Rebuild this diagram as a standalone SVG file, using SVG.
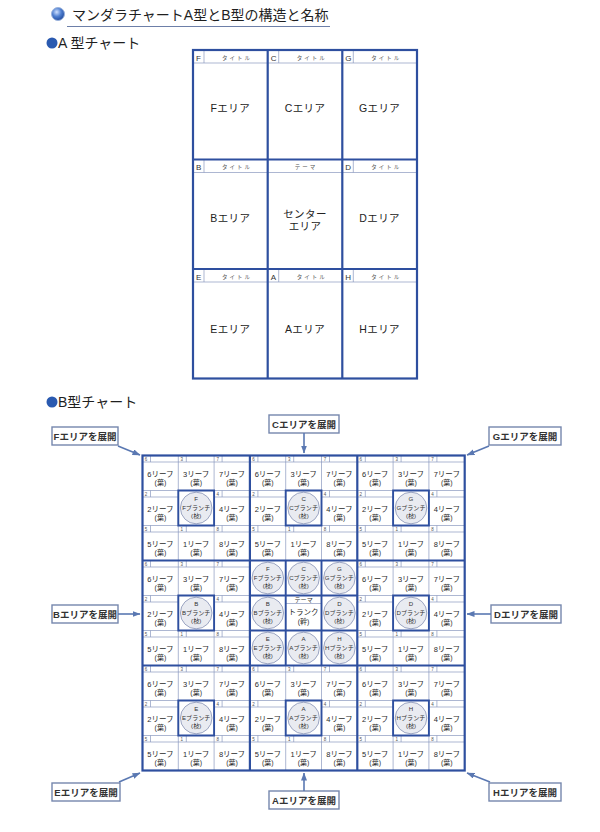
<svg xmlns="http://www.w3.org/2000/svg" xmlns:xlink="http://www.w3.org/1999/xlink" width="600" height="832" viewBox="0 0 600 832">
<style>
text{font-family:"Liberation Sans","Noto Sans CJK JP",sans-serif;}
.tk{fill:none;stroke:#2e4f9f;stroke-width:2.2}
.tk2{fill:none;stroke:#2e4f9f;stroke-width:1.9}
.tn{fill:none;stroke:#8a98bf;stroke-width:0.7}
.n{font-size:4.5px;fill:#555}
.lf{font-size:7.5px;fill:#2b2b2b;text-anchor:middle}
.ha{font-size:7px}
.b{font-size:6.1px;fill:#333;text-anchor:middle}
.ci{fill:#e9ebf1;stroke:#8792b5;stroke-width:0.8}
.lb{fill:#fff;stroke:#7587ad;stroke-width:1.4}
.lt{font-size:9.5px;font-weight:bold;fill:#333;text-anchor:middle}
.ar{stroke:#5a78b2;stroke-width:1.6;fill:none;marker-end:url(#ah)}
.at{font-size:10.5px;fill:#222;text-anchor:middle;letter-spacing:0.4px}
.tt{font-size:5.5px;fill:#555;text-anchor:middle;letter-spacing:2px}
.al{font-size:8px;fill:#333}
.h1{font-size:14px;fill:#1f1f1f}
.h2{font-size:14px;fill:#1f1f1f}
</style>
<defs>
<marker id="ah" viewBox="0 0 8 6" refX="7.5" refY="3" markerWidth="8" markerHeight="6" markerUnits="userSpaceOnUse" orient="auto"><path d="M0,0L8,3L0,6z" fill="#5a78b2"/></marker>
<radialGradient id="sph" cx="0.4" cy="0.35" r="0.7"><stop offset="0" stop-color="#cfe0ff"/><stop offset="0.5" stop-color="#4f7fd0"/><stop offset="1" stop-color="#1d4597"/></radialGradient>
<path id="fr" class="tn" d="M0,6.5H35.8M8,0V6.5"/>
</defs>
<rect width="600" height="832" fill="#fff"/>

<g id="title">
<circle cx="58" cy="14" r="6.5" fill="url(#sph)" stroke="#9bb3dd" stroke-width="1"/>
<text class="h1" x="72" y="20">マンダラチャートA型とB型の構造と名称</text>
<path d="M67,26.5H330" stroke="#6d7fa8" stroke-width="1.2"/>
</g>
<g id="titleA">
<circle cx="52" cy="43" r="5.5" fill="#2a5ab0"/>
<text class="h2" x="58" y="48">A 型チャート</text>
</g>
<g id="titleB">
<circle cx="52" cy="402" r="5.5" fill="#2a5ab0"/>
<text class="h2" x="58" y="407">B型チャート</text>
</g>

<g id="chartA">
<g id="a-F"><path class="tn" d="M193,63H267.7M204,50V63"/><text class="al" x="196" y="60.5">F</text><text class="tt" x="237" y="59.5">タイトル</text><text class="at" x="230.3" y="112">Fエリア</text></g>
<g id="a-C"><path class="tn" d="M267.7,63H342.3M278.7,50V63"/><text class="al" x="270.7" y="60.5">C</text><text class="tt" x="311.7" y="59.5">タイトル</text><text class="at" x="305" y="112">Cエリア</text></g>
<g id="a-G"><path class="tn" d="M342.3,63H417M353.3,50V63"/><text class="al" x="345.3" y="60.5">G</text><text class="tt" x="386.3" y="59.5">タイトル</text><text class="at" x="379.6" y="112">Gエリア</text></g>
<g id="a-B"><path class="tn" d="M193,172.5H267.7M204,159.5V172.5"/><text class="al" x="196" y="170">B</text><text class="tt" x="237" y="169">タイトル</text><text class="at" x="230.3" y="221.5">Bエリア</text></g>
<g id="a-center"><path class="tn" d="M267.7,172.5H342.3"/><text class="tt" x="306" y="169">テーマ</text><text class="at" x="305" y="217.5">センター</text><text class="at" x="305" y="230">エリア</text></g>
<g id="a-D"><path class="tn" d="M342.3,172.5H417M353.3,159.5V172.5"/><text class="al" x="345.3" y="170">D</text><text class="tt" x="386.3" y="169">タイトル</text><text class="at" x="379.6" y="221.5">Dエリア</text></g>
<g id="a-E"><path class="tn" d="M193,282H267.7M204,269V282"/><text class="al" x="196" y="279.5">E</text><text class="tt" x="237" y="278.5">タイトル</text><text class="at" x="230.3" y="333">Eエリア</text></g>
<g id="a-A"><path class="tn" d="M267.7,282H342.3M278.7,269V282"/><text class="al" x="270.7" y="279.5">A</text><text class="tt" x="311.7" y="278.5">タイトル</text><text class="at" x="305" y="333">Aエリア</text></g>
<g id="a-H"><path class="tn" d="M342.3,282H417M353.3,269V282"/><text class="al" x="345.3" y="279.5">H</text><text class="tt" x="386.3" y="278.5">タイトル</text><text class="at" x="379.6" y="333">Hエリア</text></g>
<rect class="tk" x="193" y="50" width="224" height="328.5"/>
<path class="tk" d="M267.7,50V378.5M342.3,50V378.5M193,159.5H417M193,269H417"/>
</g>

<g id="chartB">
<path class="tn" d="M178.3,455.5V770.5M214.1,455.5V770.5M285.7,455.5V770.5M321.5,455.5V770.5M393.1,455.5V770.5M428.9,455.5V770.5M142.5,490.5H464.7M142.5,525.5H464.7M142.5,595.5H464.7M142.5,630.5H464.7M142.5,700.5H464.7M142.5,735.5H464.7"/>

<g id="b-F">
<g transform="translate(142.5,455.5)"><use href="#fr"/><text class="n" x="2.3" y="5.3">6</text><text class="lf" x="17.9" y="21.5">6リーフ</text><text class="lf ha" x="17.9" y="29.5">(葉)</text></g>
<g transform="translate(178.3,455.5)"><use href="#fr"/><text class="n" x="2.3" y="5.3">3</text><text class="lf" x="17.9" y="21.5">3リーフ</text><text class="lf ha" x="17.9" y="29.5">(葉)</text></g>
<g transform="translate(214.1,455.5)"><use href="#fr"/><text class="n" x="2.3" y="5.3">7</text><text class="lf" x="17.9" y="21.5">7リーフ</text><text class="lf ha" x="17.9" y="29.5">(葉)</text></g>
<g transform="translate(142.5,490.5)"><use href="#fr"/><text class="n" x="2.3" y="5.3">2</text><text class="lf" x="17.9" y="21.5">2リーフ</text><text class="lf ha" x="17.9" y="29.5">(葉)</text></g>
<g transform="translate(178.3,490.5)"><circle class="ci" cx="17.9" cy="17.5" r="15.8"/><text class="b" x="17.9" y="10.3">F</text><text class="b" x="17.9" y="19">Fブランチ</text><text class="b" x="17.9" y="27.8">(枝)</text></g>
<g transform="translate(214.1,490.5)"><use href="#fr"/><text class="n" x="2.3" y="5.3">4</text><text class="lf" x="17.9" y="21.5">4リーフ</text><text class="lf ha" x="17.9" y="29.5">(葉)</text></g>
<g transform="translate(142.5,525.5)"><use href="#fr"/><text class="n" x="2.3" y="5.3">5</text><text class="lf" x="17.9" y="21.5">5リーフ</text><text class="lf ha" x="17.9" y="29.5">(葉)</text></g>
<g transform="translate(178.3,525.5)"><use href="#fr"/><text class="n" x="2.3" y="5.3">1</text><text class="lf" x="17.9" y="21.5">1リーフ</text><text class="lf ha" x="17.9" y="29.5">(葉)</text></g>
<g transform="translate(214.1,525.5)"><use href="#fr"/><text class="n" x="2.3" y="5.3">8</text><text class="lf" x="17.9" y="21.5">8リーフ</text><text class="lf ha" x="17.9" y="29.5">(葉)</text></g>
</g>

<g id="b-C">
<g transform="translate(249.9,455.5)"><use href="#fr"/><text class="n" x="2.3" y="5.3">6</text><text class="lf" x="17.9" y="21.5">6リーフ</text><text class="lf ha" x="17.9" y="29.5">(葉)</text></g>
<g transform="translate(285.7,455.5)"><use href="#fr"/><text class="n" x="2.3" y="5.3">3</text><text class="lf" x="17.9" y="21.5">3リーフ</text><text class="lf ha" x="17.9" y="29.5">(葉)</text></g>
<g transform="translate(321.5,455.5)"><use href="#fr"/><text class="n" x="2.3" y="5.3">7</text><text class="lf" x="17.9" y="21.5">7リーフ</text><text class="lf ha" x="17.9" y="29.5">(葉)</text></g>
<g transform="translate(249.9,490.5)"><use href="#fr"/><text class="n" x="2.3" y="5.3">2</text><text class="lf" x="17.9" y="21.5">2リーフ</text><text class="lf ha" x="17.9" y="29.5">(葉)</text></g>
<g transform="translate(285.7,490.5)"><circle class="ci" cx="17.9" cy="17.5" r="15.8"/><text class="b" x="17.9" y="10.3">C</text><text class="b" x="17.9" y="19">Cブランチ</text><text class="b" x="17.9" y="27.8">(枝)</text></g>
<g transform="translate(321.5,490.5)"><use href="#fr"/><text class="n" x="2.3" y="5.3">4</text><text class="lf" x="17.9" y="21.5">4リーフ</text><text class="lf ha" x="17.9" y="29.5">(葉)</text></g>
<g transform="translate(249.9,525.5)"><use href="#fr"/><text class="n" x="2.3" y="5.3">5</text><text class="lf" x="17.9" y="21.5">5リーフ</text><text class="lf ha" x="17.9" y="29.5">(葉)</text></g>
<g transform="translate(285.7,525.5)"><use href="#fr"/><text class="n" x="2.3" y="5.3">1</text><text class="lf" x="17.9" y="21.5">1リーフ</text><text class="lf ha" x="17.9" y="29.5">(葉)</text></g>
<g transform="translate(321.5,525.5)"><use href="#fr"/><text class="n" x="2.3" y="5.3">8</text><text class="lf" x="17.9" y="21.5">8リーフ</text><text class="lf ha" x="17.9" y="29.5">(葉)</text></g>
</g>

<g id="b-G">
<g transform="translate(357.3,455.5)"><use href="#fr"/><text class="n" x="2.3" y="5.3">6</text><text class="lf" x="17.9" y="21.5">6リーフ</text><text class="lf ha" x="17.9" y="29.5">(葉)</text></g>
<g transform="translate(393.1,455.5)"><use href="#fr"/><text class="n" x="2.3" y="5.3">3</text><text class="lf" x="17.9" y="21.5">3リーフ</text><text class="lf ha" x="17.9" y="29.5">(葉)</text></g>
<g transform="translate(428.9,455.5)"><use href="#fr"/><text class="n" x="2.3" y="5.3">7</text><text class="lf" x="17.9" y="21.5">7リーフ</text><text class="lf ha" x="17.9" y="29.5">(葉)</text></g>
<g transform="translate(357.3,490.5)"><use href="#fr"/><text class="n" x="2.3" y="5.3">2</text><text class="lf" x="17.9" y="21.5">2リーフ</text><text class="lf ha" x="17.9" y="29.5">(葉)</text></g>
<g transform="translate(393.1,490.5)"><circle class="ci" cx="17.9" cy="17.5" r="15.8"/><text class="b" x="17.9" y="10.3">G</text><text class="b" x="17.9" y="19">Gブランチ</text><text class="b" x="17.9" y="27.8">(枝)</text></g>
<g transform="translate(428.9,490.5)"><use href="#fr"/><text class="n" x="2.3" y="5.3">4</text><text class="lf" x="17.9" y="21.5">4リーフ</text><text class="lf ha" x="17.9" y="29.5">(葉)</text></g>
<g transform="translate(357.3,525.5)"><use href="#fr"/><text class="n" x="2.3" y="5.3">5</text><text class="lf" x="17.9" y="21.5">5リーフ</text><text class="lf ha" x="17.9" y="29.5">(葉)</text></g>
<g transform="translate(393.1,525.5)"><use href="#fr"/><text class="n" x="2.3" y="5.3">1</text><text class="lf" x="17.9" y="21.5">1リーフ</text><text class="lf ha" x="17.9" y="29.5">(葉)</text></g>
<g transform="translate(428.9,525.5)"><use href="#fr"/><text class="n" x="2.3" y="5.3">8</text><text class="lf" x="17.9" y="21.5">8リーフ</text><text class="lf ha" x="17.9" y="29.5">(葉)</text></g>
</g>

<g id="b-B">
<g transform="translate(142.5,560.5)"><use href="#fr"/><text class="n" x="2.3" y="5.3">6</text><text class="lf" x="17.9" y="21.5">6リーフ</text><text class="lf ha" x="17.9" y="29.5">(葉)</text></g>
<g transform="translate(178.3,560.5)"><use href="#fr"/><text class="n" x="2.3" y="5.3">3</text><text class="lf" x="17.9" y="21.5">3リーフ</text><text class="lf ha" x="17.9" y="29.5">(葉)</text></g>
<g transform="translate(214.1,560.5)"><use href="#fr"/><text class="n" x="2.3" y="5.3">7</text><text class="lf" x="17.9" y="21.5">7リーフ</text><text class="lf ha" x="17.9" y="29.5">(葉)</text></g>
<g transform="translate(142.5,595.5)"><use href="#fr"/><text class="n" x="2.3" y="5.3">2</text><text class="lf" x="17.9" y="21.5">2リーフ</text><text class="lf ha" x="17.9" y="29.5">(葉)</text></g>
<g transform="translate(178.3,595.5)"><circle class="ci" cx="17.9" cy="17.5" r="15.8"/><text class="b" x="17.9" y="10.3">B</text><text class="b" x="17.9" y="19">Bブランチ</text><text class="b" x="17.9" y="27.8">(枝)</text></g>
<g transform="translate(214.1,595.5)"><use href="#fr"/><text class="n" x="2.3" y="5.3">4</text><text class="lf" x="17.9" y="21.5">4リーフ</text><text class="lf ha" x="17.9" y="29.5">(葉)</text></g>
<g transform="translate(142.5,630.5)"><use href="#fr"/><text class="n" x="2.3" y="5.3">5</text><text class="lf" x="17.9" y="21.5">5リーフ</text><text class="lf ha" x="17.9" y="29.5">(葉)</text></g>
<g transform="translate(178.3,630.5)"><use href="#fr"/><text class="n" x="2.3" y="5.3">1</text><text class="lf" x="17.9" y="21.5">1リーフ</text><text class="lf ha" x="17.9" y="29.5">(葉)</text></g>
<g transform="translate(214.1,630.5)"><use href="#fr"/><text class="n" x="2.3" y="5.3">8</text><text class="lf" x="17.9" y="21.5">8リーフ</text><text class="lf ha" x="17.9" y="29.5">(葉)</text></g>
</g>

<g id="b-center">
<g transform="translate(249.9,560.5)"><circle class="ci" cx="17.9" cy="17.5" r="15.8"/><text class="b" x="17.9" y="10.3">F</text><text class="b" x="17.9" y="19">Fブランチ</text><text class="b" x="17.9" y="27.8">(枝)</text></g>
<g transform="translate(285.7,560.5)"><circle class="ci" cx="17.9" cy="17.5" r="15.8"/><text class="b" x="17.9" y="10.3">C</text><text class="b" x="17.9" y="19">Cブランチ</text><text class="b" x="17.9" y="27.8">(枝)</text></g>
<g transform="translate(321.5,560.5)"><circle class="ci" cx="17.9" cy="17.5" r="15.8"/><text class="b" x="17.9" y="10.3">G</text><text class="b" x="17.9" y="19">Gブランチ</text><text class="b" x="17.9" y="27.8">(枝)</text></g>
<g transform="translate(249.9,595.5)"><circle class="ci" cx="17.9" cy="17.5" r="15.8"/><text class="b" x="17.9" y="10.3">B</text><text class="b" x="17.9" y="19">Bブランチ</text><text class="b" x="17.9" y="27.8">(枝)</text></g>
<g transform="translate(285.7,595.5)"><path class="tn" d="M0,8H35.8"/><text class="b" x="17.9" y="6.4">テーマ</text><text class="lf" x="17.9" y="19.5">トランク</text><text class="lf ha" x="17.9" y="28.5">(幹)</text></g>
<g transform="translate(321.5,595.5)"><circle class="ci" cx="17.9" cy="17.5" r="15.8"/><text class="b" x="17.9" y="10.3">D</text><text class="b" x="17.9" y="19">Dブランチ</text><text class="b" x="17.9" y="27.8">(枝)</text></g>
<g transform="translate(249.9,630.5)"><circle class="ci" cx="17.9" cy="17.5" r="15.8"/><text class="b" x="17.9" y="10.3">E</text><text class="b" x="17.9" y="19">Eブランチ</text><text class="b" x="17.9" y="27.8">(枝)</text></g>
<g transform="translate(285.7,630.5)"><circle class="ci" cx="17.9" cy="17.5" r="15.8"/><text class="b" x="17.9" y="10.3">A</text><text class="b" x="17.9" y="19">Aブランチ</text><text class="b" x="17.9" y="27.8">(枝)</text></g>
<g transform="translate(321.5,630.5)"><circle class="ci" cx="17.9" cy="17.5" r="15.8"/><text class="b" x="17.9" y="10.3">H</text><text class="b" x="17.9" y="19">Hブランチ</text><text class="b" x="17.9" y="27.8">(枝)</text></g>
</g>

<g id="b-D">
<g transform="translate(357.3,560.5)"><use href="#fr"/><text class="n" x="2.3" y="5.3">6</text><text class="lf" x="17.9" y="21.5">6リーフ</text><text class="lf ha" x="17.9" y="29.5">(葉)</text></g>
<g transform="translate(393.1,560.5)"><use href="#fr"/><text class="n" x="2.3" y="5.3">3</text><text class="lf" x="17.9" y="21.5">3リーフ</text><text class="lf ha" x="17.9" y="29.5">(葉)</text></g>
<g transform="translate(428.9,560.5)"><use href="#fr"/><text class="n" x="2.3" y="5.3">7</text><text class="lf" x="17.9" y="21.5">7リーフ</text><text class="lf ha" x="17.9" y="29.5">(葉)</text></g>
<g transform="translate(357.3,595.5)"><use href="#fr"/><text class="n" x="2.3" y="5.3">2</text><text class="lf" x="17.9" y="21.5">2リーフ</text><text class="lf ha" x="17.9" y="29.5">(葉)</text></g>
<g transform="translate(393.1,595.5)"><circle class="ci" cx="17.9" cy="17.5" r="15.8"/><text class="b" x="17.9" y="10.3">D</text><text class="b" x="17.9" y="19">Dブランチ</text><text class="b" x="17.9" y="27.8">(枝)</text></g>
<g transform="translate(428.9,595.5)"><use href="#fr"/><text class="n" x="2.3" y="5.3">4</text><text class="lf" x="17.9" y="21.5">4リーフ</text><text class="lf ha" x="17.9" y="29.5">(葉)</text></g>
<g transform="translate(357.3,630.5)"><use href="#fr"/><text class="n" x="2.3" y="5.3">5</text><text class="lf" x="17.9" y="21.5">5リーフ</text><text class="lf ha" x="17.9" y="29.5">(葉)</text></g>
<g transform="translate(393.1,630.5)"><use href="#fr"/><text class="n" x="2.3" y="5.3">1</text><text class="lf" x="17.9" y="21.5">1リーフ</text><text class="lf ha" x="17.9" y="29.5">(葉)</text></g>
<g transform="translate(428.9,630.5)"><use href="#fr"/><text class="n" x="2.3" y="5.3">8</text><text class="lf" x="17.9" y="21.5">8リーフ</text><text class="lf ha" x="17.9" y="29.5">(葉)</text></g>
</g>

<g id="b-E">
<g transform="translate(142.5,665.5)"><use href="#fr"/><text class="n" x="2.3" y="5.3">6</text><text class="lf" x="17.9" y="21.5">6リーフ</text><text class="lf ha" x="17.9" y="29.5">(葉)</text></g>
<g transform="translate(178.3,665.5)"><use href="#fr"/><text class="n" x="2.3" y="5.3">3</text><text class="lf" x="17.9" y="21.5">3リーフ</text><text class="lf ha" x="17.9" y="29.5">(葉)</text></g>
<g transform="translate(214.1,665.5)"><use href="#fr"/><text class="n" x="2.3" y="5.3">7</text><text class="lf" x="17.9" y="21.5">7リーフ</text><text class="lf ha" x="17.9" y="29.5">(葉)</text></g>
<g transform="translate(142.5,700.5)"><use href="#fr"/><text class="n" x="2.3" y="5.3">2</text><text class="lf" x="17.9" y="21.5">2リーフ</text><text class="lf ha" x="17.9" y="29.5">(葉)</text></g>
<g transform="translate(178.3,700.5)"><circle class="ci" cx="17.9" cy="17.5" r="15.8"/><text class="b" x="17.9" y="10.3">E</text><text class="b" x="17.9" y="19">Eブランチ</text><text class="b" x="17.9" y="27.8">(枝)</text></g>
<g transform="translate(214.1,700.5)"><use href="#fr"/><text class="n" x="2.3" y="5.3">4</text><text class="lf" x="17.9" y="21.5">4リーフ</text><text class="lf ha" x="17.9" y="29.5">(葉)</text></g>
<g transform="translate(142.5,735.5)"><use href="#fr"/><text class="n" x="2.3" y="5.3">5</text><text class="lf" x="17.9" y="21.5">5リーフ</text><text class="lf ha" x="17.9" y="29.5">(葉)</text></g>
<g transform="translate(178.3,735.5)"><use href="#fr"/><text class="n" x="2.3" y="5.3">1</text><text class="lf" x="17.9" y="21.5">1リーフ</text><text class="lf ha" x="17.9" y="29.5">(葉)</text></g>
<g transform="translate(214.1,735.5)"><use href="#fr"/><text class="n" x="2.3" y="5.3">8</text><text class="lf" x="17.9" y="21.5">8リーフ</text><text class="lf ha" x="17.9" y="29.5">(葉)</text></g>
</g>

<g id="b-A">
<g transform="translate(249.9,665.5)"><use href="#fr"/><text class="n" x="2.3" y="5.3">6</text><text class="lf" x="17.9" y="21.5">6リーフ</text><text class="lf ha" x="17.9" y="29.5">(葉)</text></g>
<g transform="translate(285.7,665.5)"><use href="#fr"/><text class="n" x="2.3" y="5.3">3</text><text class="lf" x="17.9" y="21.5">3リーフ</text><text class="lf ha" x="17.9" y="29.5">(葉)</text></g>
<g transform="translate(321.5,665.5)"><use href="#fr"/><text class="n" x="2.3" y="5.3">7</text><text class="lf" x="17.9" y="21.5">7リーフ</text><text class="lf ha" x="17.9" y="29.5">(葉)</text></g>
<g transform="translate(249.9,700.5)"><use href="#fr"/><text class="n" x="2.3" y="5.3">2</text><text class="lf" x="17.9" y="21.5">2リーフ</text><text class="lf ha" x="17.9" y="29.5">(葉)</text></g>
<g transform="translate(285.7,700.5)"><circle class="ci" cx="17.9" cy="17.5" r="15.8"/><text class="b" x="17.9" y="10.3">A</text><text class="b" x="17.9" y="19">Aブランチ</text><text class="b" x="17.9" y="27.8">(枝)</text></g>
<g transform="translate(321.5,700.5)"><use href="#fr"/><text class="n" x="2.3" y="5.3">4</text><text class="lf" x="17.9" y="21.5">4リーフ</text><text class="lf ha" x="17.9" y="29.5">(葉)</text></g>
<g transform="translate(249.9,735.5)"><use href="#fr"/><text class="n" x="2.3" y="5.3">5</text><text class="lf" x="17.9" y="21.5">5リーフ</text><text class="lf ha" x="17.9" y="29.5">(葉)</text></g>
<g transform="translate(285.7,735.5)"><use href="#fr"/><text class="n" x="2.3" y="5.3">1</text><text class="lf" x="17.9" y="21.5">1リーフ</text><text class="lf ha" x="17.9" y="29.5">(葉)</text></g>
<g transform="translate(321.5,735.5)"><use href="#fr"/><text class="n" x="2.3" y="5.3">8</text><text class="lf" x="17.9" y="21.5">8リーフ</text><text class="lf ha" x="17.9" y="29.5">(葉)</text></g>
</g>

<g id="b-H">
<g transform="translate(357.3,665.5)"><use href="#fr"/><text class="n" x="2.3" y="5.3">6</text><text class="lf" x="17.9" y="21.5">6リーフ</text><text class="lf ha" x="17.9" y="29.5">(葉)</text></g>
<g transform="translate(393.1,665.5)"><use href="#fr"/><text class="n" x="2.3" y="5.3">3</text><text class="lf" x="17.9" y="21.5">3リーフ</text><text class="lf ha" x="17.9" y="29.5">(葉)</text></g>
<g transform="translate(428.9,665.5)"><use href="#fr"/><text class="n" x="2.3" y="5.3">7</text><text class="lf" x="17.9" y="21.5">7リーフ</text><text class="lf ha" x="17.9" y="29.5">(葉)</text></g>
<g transform="translate(357.3,700.5)"><use href="#fr"/><text class="n" x="2.3" y="5.3">2</text><text class="lf" x="17.9" y="21.5">2リーフ</text><text class="lf ha" x="17.9" y="29.5">(葉)</text></g>
<g transform="translate(393.1,700.5)"><circle class="ci" cx="17.9" cy="17.5" r="15.8"/><text class="b" x="17.9" y="10.3">H</text><text class="b" x="17.9" y="19">Hブランチ</text><text class="b" x="17.9" y="27.8">(枝)</text></g>
<g transform="translate(428.9,700.5)"><use href="#fr"/><text class="n" x="2.3" y="5.3">4</text><text class="lf" x="17.9" y="21.5">4リーフ</text><text class="lf ha" x="17.9" y="29.5">(葉)</text></g>
<g transform="translate(357.3,735.5)"><use href="#fr"/><text class="n" x="2.3" y="5.3">5</text><text class="lf" x="17.9" y="21.5">5リーフ</text><text class="lf ha" x="17.9" y="29.5">(葉)</text></g>
<g transform="translate(393.1,735.5)"><use href="#fr"/><text class="n" x="2.3" y="5.3">1</text><text class="lf" x="17.9" y="21.5">1リーフ</text><text class="lf ha" x="17.9" y="29.5">(葉)</text></g>
<g transform="translate(428.9,735.5)"><use href="#fr"/><text class="n" x="2.3" y="5.3">8</text><text class="lf" x="17.9" y="21.5">8リーフ</text><text class="lf ha" x="17.9" y="29.5">(葉)</text></g>
</g>

<g id="b-thick">
<path class="tk2" d="M178.3,490.5h35.8v35h-35.8zM285.7,490.5h35.8v35h-35.8zM393.1,490.5h35.8v35h-35.8zM178.3,595.5h35.8v35h-35.8zM393.1,595.5h35.8v35h-35.8zM178.3,700.5h35.8v35h-35.8zM285.7,700.5h35.8v35h-35.8zM393.1,700.5h35.8v35h-35.8z"/>
<path class="tk2" d="M285.7,560.5V665.5M321.5,560.5V665.5M249.9,595.5H357.3M249.9,630.5H357.3"/>
<path class="tk" d="M249.9,455.5V770.5M357.3,455.5V770.5M142.5,560.5H464.7M142.5,665.5H464.7"/>
<rect class="tk" x="142.5" y="455.5" width="322.2" height="315"/>
</g>
</g>

<g id="labels">
<g id="l-F"><rect class="lb" x="52" y="427" width="66" height="18"/><text class="lt" x="85" y="439.5">Fエリアを展開</text></g>
<g id="l-C"><rect class="lb" x="269" y="415" width="70" height="18"/><text class="lt" x="304" y="427.5">Cエリアを展開</text></g>
<g id="l-G"><rect class="lb" x="489" y="427" width="72" height="18"/><text class="lt" x="525" y="439.5">Gエリアを展開</text></g>
<g id="l-B"><rect class="lb" x="52" y="605" width="66" height="18"/><text class="lt" x="85" y="617.5">Bエリアを展開</text></g>
<g id="l-D"><rect class="lb" x="491" y="605" width="70" height="18"/><text class="lt" x="526" y="617.5">Dエリアを展開</text></g>
<g id="l-E"><rect class="lb" x="52" y="783" width="68" height="18"/><text class="lt" x="86" y="795.5">Eエリアを展開</text></g>
<g id="l-A"><rect class="lb" x="269" y="791" width="70" height="18"/><text class="lt" x="304" y="803.5">Aエリアを展開</text></g>
<g id="l-H"><rect class="lb" x="489" y="783" width="72" height="18"/><text class="lt" x="525" y="795.5">Hエリアを展開</text></g>
</g>

<g id="connectors">
<path class="ar" d="M118,446L140,455"/>
<path class="ar" d="M304,433V453"/>
<path class="ar" d="M489,446L467,455"/>
<path class="ar" d="M118,614H140"/>
<path class="ar" d="M491,614H467"/>
<path class="ar" d="M119,782L140,773"/>
<path class="ar" d="M304,791V773"/>
<path class="ar" d="M490,782L467,773"/>
</g>
</svg>
